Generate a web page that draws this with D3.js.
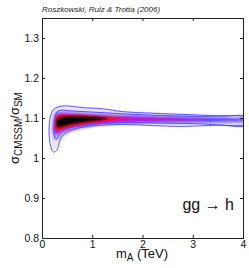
<!DOCTYPE html>
<html>
<head>
<meta charset="utf-8">
<script src="https://cdn.jsdelivr.net/npm/d3@7"></script>
<style>
  body { margin: 0; background: #fff; }
  text { font-family: "Liberation Sans", Arial, sans-serif; }
</style>
</head>
<body>
<div id="chart"></div>
<script>
// tick values
var xTicks = [0, 1, 2, 3, 4];
var yTicks = [0.8, 0.9, 1.0, 1.1, 1.2, 1.3];
var yTickLabels = ["0.8", "0.9", "1", "1.1", "1.2", "1.3"];

// density bands: [mA (TeV), low ratio, high ratio]
var bandPale = [[0.14, 1.07, 1.075], [0.17, 1.03, 1.11], [0.23, 1.018, 1.125], [0.3, 1.026, 1.132],
  [0.4, 1.05, 1.133], [0.7, 1.07, 1.13], [1.0, 1.078, 1.126], [1.5, 1.083, 1.12],
  [2.0, 1.082, 1.115], [3.0, 1.08, 1.11], [4.1, 1.081, 1.105]];
var bandLilac = [[0.19, 1.07, 1.075], [0.22, 1.04, 1.112], [0.3, 1.045, 1.12], [0.5, 1.064, 1.119],
  [1.0, 1.08, 1.115], [1.5, 1.086, 1.111], [2.5, 1.086, 1.107], [4.1, 1.085, 1.102]];
var bandBlue = [[0.21, 1.075, 1.08], [0.24, 1.055, 1.11], [0.3, 1.058, 1.115], [0.5, 1.072, 1.114],
  [1.0, 1.083, 1.11], [2.0, 1.088, 1.105], [3.0, 1.089, 1.103], [3.5, 1.09, 1.101], [4.1, 1.092, 1.099]];
var bandMagenta = [[0.22, 1.08, 1.085], [0.24, 1.058, 1.107], [0.32, 1.062, 1.113], [0.6, 1.076, 1.113],
  [1.2, 1.086, 1.108], [2.0, 1.091, 1.104], [3.0, 1.094, 1.1], [3.3, 1.096, 1.098]];
var bandRed = [[0.24, 1.08, 1.088], [0.26, 1.064, 1.105], [0.35, 1.068, 1.11], [0.6, 1.08, 1.11],
  [1.0, 1.087, 1.108], [1.25, 1.091, 1.105], [1.5, 1.095, 1.102], [1.7, 1.0975, 1.0985]];
var bandBlack = [[0.28, 1.085, 1.09], [0.3, 1.072, 1.1], [0.4, 1.078, 1.105], [0.7, 1.087, 1.106],
  [1.0, 1.091, 1.105], [1.15, 1.094, 1.103], [1.3, 1.097, 1.1]];

// credible region contours: closed loops of [mA, ratio]
var contour95 = [[0.14, 1.07], [0.17, 1.105], [0.24, 1.122], [0.4, 1.13], [0.6, 1.129], [0.8, 1.126],
  [1.2, 1.123], [1.6, 1.116], [2.2, 1.112], [3.0, 1.108], [3.6, 1.105], [4.1, 1.103],
  [4.1, 1.082], [3.5, 1.082], [2.8, 1.079], [2.2, 1.081], [1.6, 1.084], [1.0, 1.08],
  [0.66, 1.073], [0.46, 1.062], [0.36, 1.045], [0.3, 1.02], [0.23, 1.015], [0.17, 1.03]];
var contour68 = [[0.24, 1.08], [0.27, 1.108], [0.33, 1.118], [0.66, 1.117], [1.4, 1.112],
  [2.0, 1.108], [3.0, 1.104], [4.1, 1.1], [4.1, 1.086], [3.0, 1.086], [2.0, 1.088],
  [1.4, 1.088], [0.86, 1.082], [0.53, 1.074], [0.36, 1.062], [0.3, 1.047], [0.26, 1.05]];

var bands = [
  { pts: bandPale, color: "#eee4ff" },
  { pts: bandLilac, color: "#bcaaff" },
  { pts: bandBlue, color: "#6050ff" },
  { pts: bandMagenta, color: "#b81ed0" },
  { pts: bandRed, color: "#f00a0a" },
  { pts: bandBlack, color: "#000000" }
];

var width = 249, height = 268;
var margin = { left: 42, right: 6, top: 18, bottom: 30 };

var svg = d3.select("#chart").append("svg")
    .attr("width", width)
    .attr("height", height);

svg.append("rect")
    .attr("width", width)
    .attr("height", height)
    .style("fill", "#fff");

var x = d3.scaleLinear()
    .domain([0, 4])
    .range([margin.left, width - margin.right]);

var y = d3.scaleLinear()
    .domain([0.8, 1.35])
    .range([height - margin.bottom, margin.top]);

var defs = svg.append("defs");
defs.append("clipPath")
    .attr("id", "plot-clip")
  .append("rect")
    .attr("x", x(0))
    .attr("y", y(1.35))
    .attr("width", x(4) - x(0))
    .attr("height", y(0.8) - y(1.35));
defs.append("filter")
    .attr("id", "soft")
    .attr("x", "-10%").attr("y", "-50%")
    .attr("width", "120%").attr("height", "200%")
  .append("feGaussianBlur")
    .attr("stdDeviation", 1.0);

var plot = svg.append("g")
    .attr("clip-path", "url(#plot-clip)");

// Density layers
var area = d3.area()
    .x(function(d) { return x(d[0]); })
    .y0(function(d) { return y(d[1]); })
    .y1(function(d) { return y(d[2]); })
    .curve(d3.curveBasis);

plot.append("g")
    .attr("filter", "url(#soft)")
  .selectAll("path")
    .data(bands)
  .enter().append("path")
    .attr("d", function(d) { return area(d.pts); })
    .style("fill", function(d) { return d.color; });

// Contours
var loop = d3.line()
    .x(function(d) { return x(d[0]); })
    .y(function(d) { return y(d[1]); })
    .curve(d3.curveCatmullRomClosed.alpha(0.5));

plot.selectAll(".contour")
    .data([contour95, contour68])
  .enter().append("path")
    .attr("class", "contour")
    .attr("d", loop)
    .style("fill", "none")
    .style("stroke", "#4646ff")
    .style("stroke-width", 0.9);

// Axes, ticks pointing inward
var tickLen = 3;
var fontSize = "10.5px";

var xAxis = svg.append("g")
    .attr("transform", "translate(0," + y(0.8) + ")")
    .call(d3.axisBottom(x).tickValues(xTicks).tickSize(-tickLen).tickPadding(3)
      .tickFormat(d3.format("d")));
var yAxis = svg.append("g")
    .attr("transform", "translate(" + x(0) + ",0)")
    .call(d3.axisLeft(y).tickValues(yTicks).tickSize(-tickLen).tickPadding(3)
      .tickFormat(function(d, i) { return yTickLabels[i]; }));
var xTop = svg.append("g")
    .attr("transform", "translate(0," + y(1.35) + ")")
    .call(d3.axisTop(x).tickValues(xTicks).tickSize(-tickLen).tickFormat(""));
var yRight = svg.append("g")
    .attr("transform", "translate(" + x(4) + ",0)")
    .call(d3.axisRight(y).tickValues(yTicks).tickSize(-tickLen).tickFormat(""));

[xAxis, yAxis, xTop, yRight].forEach(function(a) {
  a.select(".domain").remove();
  a.selectAll("line").style("stroke", "#222");
  a.selectAll("text")
      .style("font-family", "'Liberation Sans', Arial, sans-serif")
      .style("font-size", fontSize)
      .style("fill", "#111");
});

// Box
svg.append("rect")
    .attr("x", x(0))
    .attr("y", y(1.35))
    .attr("width", x(4) - x(0))
    .attr("height", y(0.8) - y(1.35))
    .style("fill", "none")
    .style("stroke", "#222")
    .style("stroke-width", 1)
    .style("shape-rendering", "crispEdges");

// Title
svg.append("text")
    .attr("x", 42)
    .attr("y", 11.5)
    .style("font-size", "8px")
    .style("font-style", "italic")
    .style("fill", "#222")
    .text("Roszkowski, Ruiz & Trotta (2006)");

// Process label
svg.append("text")
    .attr("x", 234)
    .attr("y", 210)
    .attr("text-anchor", "end")
    .style("font-size", "16px")
    .style("fill", "#111")
    .text("gg \u2192 h");

// X label
var xl = svg.append("text")
    .attr("x", 142)
    .attr("y", 258)
    .attr("text-anchor", "middle")
    .style("font-size", "13px")
    .style("fill", "#111");
xl.append("tspan").text("m");
xl.append("tspan").attr("dy", 3).style("font-size", "10px").text("A");
xl.append("tspan").attr("dy", -3).text(" (TeV)");

// Y label
var yl = svg.append("text")
    .attr("transform", "translate(19,128) rotate(-90)")
    .attr("text-anchor", "middle")
    .style("font-size", "13px")
    .style("fill", "#111");
yl.append("tspan").text("\u03c3");
yl.append("tspan").attr("dy", 3).style("font-size", "10px").text("CMSSM");
yl.append("tspan").attr("dy", -3).text("/\u03c3");
yl.append("tspan").attr("dy", 3).style("font-size", "10px").text("SM");
</script>
</body>
</html>
